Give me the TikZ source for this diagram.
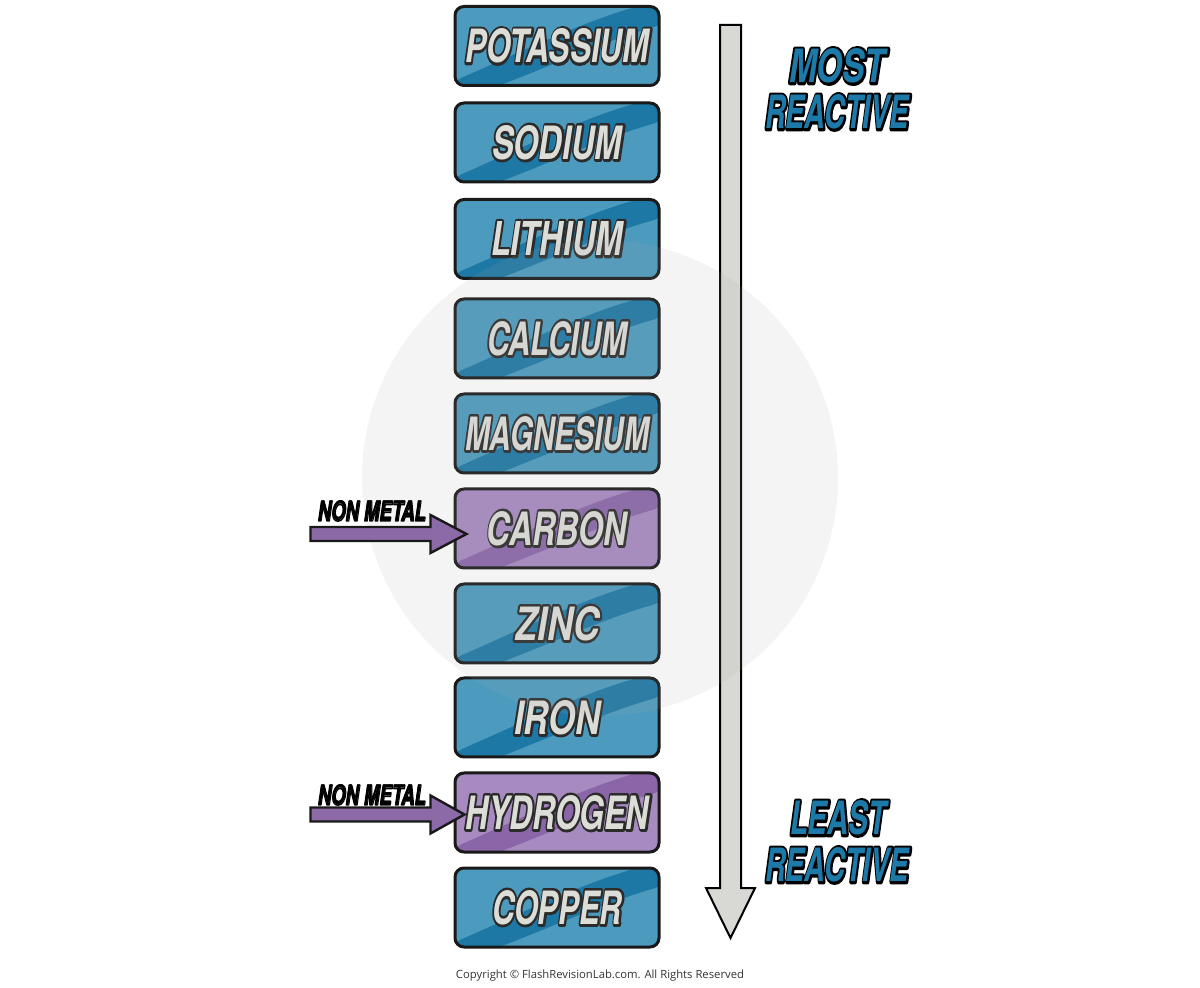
\documentclass[tikz,border=0pt]{standalone}
\usepackage{fontspec}
\setmainfont{TeX Gyre Heros}
\newfontfamily\cpfont{Open Sans}
\usepackage{graphicx}
\usetikzlibrary{calc}
\definecolor{bluelt}{HTML}{4C9BBE}
\definecolor{bluedk}{HTML}{1E78A5}
\definecolor{purlt}{HTML}{A68AC0}
\definecolor{purdk}{HTML}{8A66A8}
\definecolor{eltfill}{HTML}{DDDDD8}
\definecolor{lblblue}{HTML}{1D79A8}
\definecolor{arrgray}{HTML}{D8D9D5}
\definecolor{arrpur}{HTML}{8C6AA8}
\definecolor{wmark}{HTML}{A8A8A8}
% outlined text: stroked copy (text render mode 1) under the filled copy
\newcommand{\outlined}[3]{\leavevmode\rlap{\special{pdf:literal direct #1 RG #2 w 1 j 1 J 1 Tr}#3\special{pdf:literal direct 0 Tr}}#3}
\newcommand{\eltxt}[2]{{\color{eltfill}\resizebox{#1}{17pt}{\fontsize{24}{24}\selectfont\bfseries\itshape\outlined{0.17 0.17 0.17}{2.8}{#2}}}}
\newcommand{\lbltxt}[2]{{\color{lblblue}\resizebox{#1}{17pt}{\fontsize{24}{24}\selectfont\bfseries\itshape\outlined{0 0 0}{2.8}{#2}}}}
\newcommand{\nmtxt}{{\color{black}\resizebox{54pt}{10pt}{\fontsize{14}{14}\selectfont\bfseries\itshape\outlined{0 0 0}{0.8}{NON METAL}}}}
\tikzset{
  elbox/.style={draw=black!90, line width=1.5pt, rounded corners=4.5pt,
    minimum width=102pt, minimum height=39.5pt, inner sep=0pt, fill=#1lt,
    path picture={
      \coordinate (pbnw) at (path picture bounding box.north west);
      \fill[#1dk] ($(pbnw)+(-2,75)$) .. controls ($(pbnw)+(60,48)$) and ($(pbnw)+(130,14)$) .. ($(pbnw)+(190,-2)$)
        -- ($(pbnw)+(208,-2)$) -- ($(pbnw)+(208,18)$)
        .. controls ($(pbnw)+(150,34)$) and ($(pbnw)+(90,62)$) .. ($(pbnw)+(36,82)$)
        -- ($(pbnw)+(-2,82)$) -- cycle;
    }},
  bigarrow/.style={fill=arrgray, draw=black, line width=1pt, line join=miter},
  nmarrow/.style={fill=arrpur, draw=black!90, line width=1.2pt, line join=miter},
  lbl/.style={inner sep=0pt},
}
\begin{document}
\begin{tikzpicture}[x=0.5pt,y=-0.5pt]
\useasboundingbox (0,0) rectangle (1200,988);
% element boxes
\node[elbox=blue] (k)  at (557,46)    {\eltxt{92pt}{POTASSIUM}};
\node[elbox=blue] (na) at (557,142.5) {\eltxt{65pt}{SODIUM}};
\node[elbox=blue] (li) at (557,239)   {\eltxt{66pt}{LITHIUM}};
\node[elbox=blue] (ca) at (557,338.5) {\eltxt{70pt}{CALCIUM}};
\node[elbox=blue] (mg) at (557,433.5) {\eltxt{92pt}{MAGNESIUM}};
\node[elbox=pur]  (c)  at (557,528.5) {\eltxt{70pt}{CARBON}};
\node[elbox=blue] (zn) at (557,623.5) {\eltxt{42pt}{ZINC}};
\node[elbox=blue] (fe) at (557,717.5) {\eltxt{43pt}{IRON}};
\node[elbox=pur]  (h)  at (557,812.5) {\eltxt{92pt}{HYDROGEN}};
\node[elbox=blue] (cu) at (557,907.5) {\eltxt{65pt}{COPPER}};
% big reactivity arrow
\draw[bigarrow] (720,25) -- (741,25) -- (741,888) -- (755,888) -- (730.5,938) -- (706,888) -- (720,888) -- cycle;
% watermark
\fill[wmark, opacity=0.12] (600,478) circle (238);
% labels
\node[lbl] (most) at (837,66)  {\lbltxt{48pt}{MOST}};
\node[lbl] (mre)  at (837,112) {\lbltxt{72pt}{REACTIVE}};
\node[lbl] (least) at (838,818) {\lbltxt{48pt}{LEAST}};
\node[lbl] (lre)  at (837,865) {\lbltxt{72pt}{REACTIVE}};
% non metal labels and arrows
\node[lbl] (nm1) at (372,511) {\nmtxt};
\node[lbl] (nm2) at (372,795) {\nmtxt};
\coordinate (t1) at ($(c.west)+(13,5.5)$);
\coordinate (t2) at ($(h.west)+(11,2)$);
\draw[nmarrow] ($(t1)+(-156,-7)$) -- ($(t1)+(-36,-7)$) -- ($(t1)+(-36,-19)$) -- (t1)
  -- ($(t1)+(-36,19)$) -- ($(t1)+(-36,7)$) -- ($(t1)+(-156,7)$) -- cycle;
\draw[nmarrow] ($(t2)+(-154,-7)$) -- ($(t2)+(-34,-7)$) -- ($(t2)+(-34,-19)$) -- (t2)
  -- ($(t2)+(-34,19)$) -- ($(t2)+(-34,7)$) -- ($(t2)+(-154,7)$) -- cycle;
% copyright
\node[lbl, text=black!80] (copy) at (600,976) {\resizebox{144pt}{!}{\cpfont Copyright \textcopyright{} FlashRevisionLab.com. All Rights Reserved}};
\end{tikzpicture}
\end{document}
